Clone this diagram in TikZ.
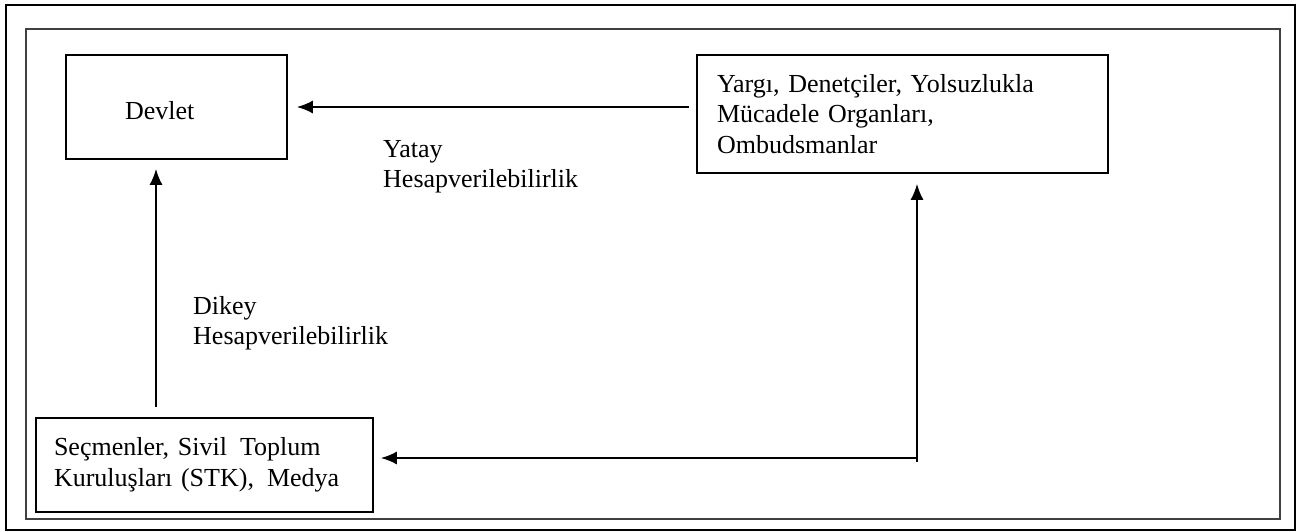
\documentclass[tikz,border=0pt]{standalone}
\usepackage{fontspec}
\setmainfont{Liberation Serif}
\usetikzlibrary{calc,arrows.meta}

\tikzset{
  kutu/.style={draw, line width=1.7pt, rectangle, align=left, inner ysep=0pt},
  ok/.style={line width=1.8pt, -{Latex[length=16pt,width=13pt]}},
  etiket/.style={anchor=west, align=left, inner sep=0pt},
}

\begin{document}
\begin{tikzpicture}[x=1pt, y=-1pt, font=\fontsize{26}{30.5}\selectfont]
			%%%%% START %%%%%
			\useasboundingbox (0, 0) rectangle (1298, 532);
			
			\draw[line width=1.4pt] (6, 5) rectangle (1295, 530);
			\draw[line width=2.2pt, color=black!75] (26, 29) rectangle (1280, 519);
			
			\node[kutu, minimum width=221pt, minimum height=104pt, text width=103pt, inner xsep=59pt, text height=26pt, text depth=0pt] (devlet) at (176.5, 107) {Devlet};
			\node[kutu, minimum width=411pt, minimum height=118pt, text width=371pt, inner xsep=20pt] (denetim) at (902.5, 114) {Yargı, Denetçiler, Yolsuzlukla\\Mücadele Organları,\\Ombudsmanlar};
			\node[kutu, minimum width=337pt, minimum height=94pt, text width=301pt, inner xsep=18pt] (secmen) at (204.5, 465) {Seçmenler, Sivil\, Toplum\\Kuruluşları (STK),\, Medya};
			
			\coordinate (kose) at (917, 458);
			
			\draw[ok, shorten <=7pt, shorten >=9pt] (denetim.west |- devlet.east) -- (devlet.east);
			\draw[ok, shorten <=10pt, shorten >=9pt] (secmen.north -| 156, 0) -- (devlet.south -| 156, 0);
			\draw[ok, shorten >=10pt] ($(kose)+(0, 4)$) -- (kose |- denetim.south);
			\draw[ok, shorten >=7pt] (kose) -- (kose -| secmen.east);
			
			\node[etiket] (yatay) at (383, 167) {Yatay\\Hesapverilebilirlik};
			\node[etiket] (dikey) at (193, 323) {Dikey\\Hesapverilebilirlik};
			
			%%%%% END %%%%%
\end{tikzpicture}
\end{document}
